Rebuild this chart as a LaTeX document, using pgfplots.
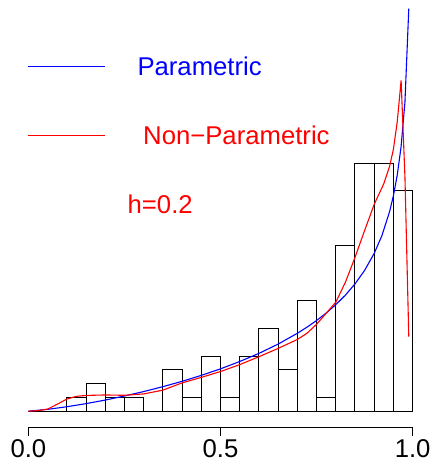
\documentclass[border=0pt]{standalone}
\usepackage{fontspec}
\setmainfont{Liberation Sans}
\usepackage{pgfplots}
\pgfplotsset{compat=1.18}

% histogram: left bin edge, density (last row closes the final interval)
\pgfplotstableread{
x    d
0.00 0.0
0.05 0.0
0.10 0.2
0.15 0.4
0.20 0.2
0.25 0.2
0.30 0.0
0.35 0.6
0.40 0.2
0.45 0.8
0.50 0.2
0.55 0.8
0.60 1.2
0.65 0.6
0.70 1.6
0.75 0.2
0.80 2.4
0.85 3.6
0.90 3.6
0.95 3.2
1.00 3.2
}\histdata

% fitted parametric density
\pgfplotstableread{
x     f
0.00  0.000
0.05  0.026
0.10  0.064
0.15  0.109
0.20  0.161
0.25  0.220
0.30  0.284
0.35  0.355
0.40  0.433
0.45  0.519
0.50  0.614
0.55  0.720
0.60  0.838
0.65  0.973
0.70  1.130
0.725 1.218
0.75  1.315
0.775 1.423
0.80  1.545
0.825 1.683
0.85  1.846
0.875 2.042
0.90  2.289
0.92  2.546
0.94  2.894
0.95  3.126
0.96  3.425
0.97  3.839
0.98  4.483
0.99  5.840
}\paramdata

% kernel density estimate, h = 0.2
\pgfplotstableread{
x     f
0.00  0.000
0.025 0.008
0.05  0.030
0.075 0.100
0.10  0.175
0.125 0.215
0.15  0.228
0.20  0.235
0.25  0.230
0.30  0.250
0.35  0.305
0.40  0.410
0.45  0.490
0.50  0.575
0.55  0.675
0.60  0.790
0.65  0.910
0.70  1.040
0.725 1.130
0.75  1.260
0.775 1.420
0.80  1.580
0.825 1.870
0.85  2.230
0.875 2.620
0.90  3.000
0.925 3.300
0.94  3.550
0.95  3.800
0.96  4.200
0.97  4.800
0.98  3.400
0.99  1.080
}\kerneldata

\begin{document}
\begin{tikzpicture}[font=\fontsize{25.7}{30}\selectfont]
\path[use as bounding box] (-13pt,-38.3pt) rectangle (421pt,427.7pt);
\begin{axis}[
  at={(0pt,0pt)}, anchor=south west,
  scale only axis, width=415pt, height=427.7pt,
  xmin=-0.04, xmax=1.04, ymin=-0.24, ymax=5.965,
  clip=false,
  axis line style={draw=none},
  ytick=\empty,
  xtick={0,0.5,1}, xticklabels={0.0,0.5,1.0},
  xtick pos=left, tick align=outside,
  major tick length=8.3pt,
  tick style={black, line width=1pt},
  xticklabel style={anchor=base, yshift=-21.9pt, inner sep=0pt},
  /pgf/number format/assume math mode=true,
]
\draw[black, line width=1pt] (axis cs:0,-0.24) -- (axis cs:1,-0.24);
\addplot[ybar interval, draw=black, fill=none, line width=1pt] table[x=x, y=d] {\histdata};
\addplot[blue, line width=1.1pt, mark=none] table[x=x, y=f] {\paramdata};
\addplot[red, line width=1.1pt, mark=none] table[x=x, y=f] {\kerneldata};
\end{axis}
% legend
\draw[blue, line width=1.1pt] (15.3pt,361pt) -- (92pt,361pt);
\node[anchor=base west, inner sep=0pt, text=blue] at (124.3pt,351.7pt) {Parametric};
\draw[red, line width=1.1pt] (15.3pt,292.4pt) -- (92pt,292.4pt);
\node[anchor=base west, inner sep=0pt, text=red] at (130pt,282.7pt) {Non−Parametric};
\node[anchor=base west, inner sep=0pt, text=red] at (114.5pt,214.4pt) {h=0.2};
\end{tikzpicture}
\end{document}
